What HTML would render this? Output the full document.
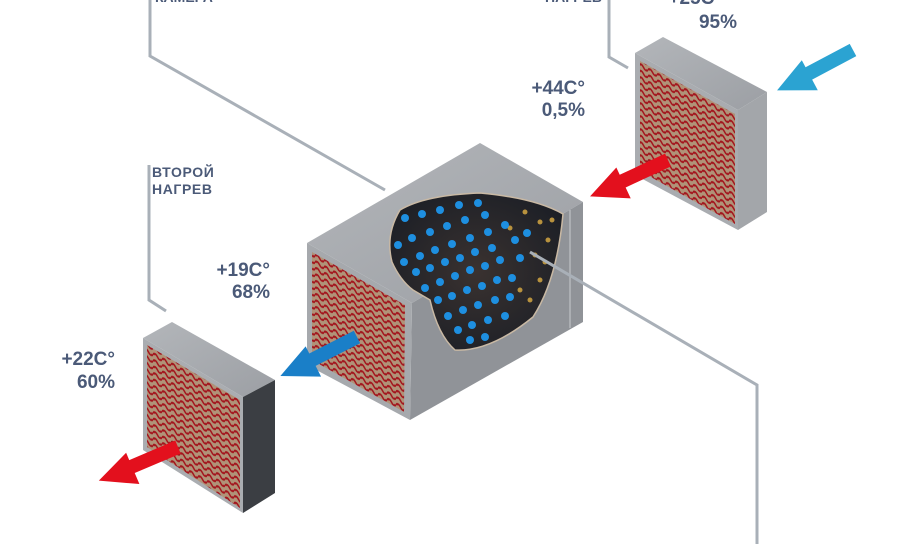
<!DOCTYPE html>
<html><head><meta charset="utf-8"><style>
html,body{margin:0;padding:0;background:#fff;width:916px;height:544px;overflow:hidden}
svg{display:block}
text{font-family:"Liberation Sans",sans-serif;font-weight:bold;fill:#4b5a78}
</style></head><body>
<svg width="916" height="544" viewBox="0 0 916 544" xmlns="http://www.w3.org/2000/svg">
<defs>
<pattern id="wv" width="9" height="6.5" patternUnits="userSpaceOnUse" patternTransform="skewY(29)">
<rect width="9" height="6.5" fill="#b09378"/>
<path d="M0 3.2 Q2.25 -0.2 4.5 3.2 T9 3.2" fill="none" stroke="#a3151d" stroke-width="1.9"/>
</pattern>
<linearGradient id="lg1" x1="0" y1="0" x2="0" y2="1"><stop offset="0" stop-color="#2fb4d8"/><stop offset="1" stop-color="#a9b0b8"/></linearGradient>
<linearGradient id="lg2" x1="0" y1="0" x2="0" y2="1"><stop offset="0" stop-color="#a9b0b8"/><stop offset="1" stop-color="#2fb4d8"/></linearGradient>
<linearGradient id="top" x1="0" y1="0" x2="1" y2="1"><stop offset="0" stop-color="#b3b6ba"/><stop offset="1" stop-color="#9c9fa4"/></linearGradient>
<radialGradient id="hole" cx="0.5" cy="0.5" r="0.6"><stop offset="0" stop-color="#3a3230"/><stop offset="1" stop-color="#1c1f26"/></radialGradient>
<g id="arr"><polygon points="0,-7 50,-7 50,-19 86,0 50,15 50,7 0,7"/></g>
</defs>

<polyline points="150,0 150,56 385,190" fill="none" stroke="#a9b0b8" stroke-width="3"/>
<line x1="150" y1="0" x2="150" y2="50" stroke="url(#lg1)" stroke-width="3"/>
<polyline points="609,0 609,57 628,68" fill="none" stroke="#a9b0b8" stroke-width="3"/>
<line x1="609" y1="0" x2="609" y2="52" stroke="url(#lg1)" stroke-width="3"/>
<polyline points="149,165 149,300 166,311" fill="none" stroke="#a9b0b8" stroke-width="3"/>
<line x1="149" y1="165" x2="149" y2="290" stroke="url(#lg1)" stroke-width="3"/>

<text x="152" y="177" font-size="14" letter-spacing="0.6">ВТОРОЙ</text>
<text x="152" y="194" font-size="14" letter-spacing="0.6">НАГРЕВ</text>
<text x="155" y="2" font-size="14">КАМЕРА</text>
<text x="602" y="2" font-size="14" text-anchor="end">НАГРЕВ</text>
<text x="722" y="4" font-size="19" text-anchor="end">+25C°</text>
<text x="737" y="28" font-size="19" text-anchor="end">95%</text>
<text x="585" y="94" font-size="19" text-anchor="end">+44C°</text>
<text x="585" y="116" font-size="19" text-anchor="end">0,5%</text>
<text x="270" y="276" font-size="19" text-anchor="end">+19C°</text>
<text x="270" y="298" font-size="19" text-anchor="end">68%</text>
<text x="115" y="365" font-size="19" text-anchor="end">+22C°</text>
<text x="115" y="388" font-size="19" text-anchor="end">60%</text>

<polygon points="635,53 663,37 767,92 738,110" fill="url(#top)"/>
<polygon points="738,110 767,92 767,212 738,230" fill="#a3a6aa"/>
<polygon points="635,53 738,110 738,230 635,175" fill="#a9acb0"/>
<polygon points="640,61 735,114 735,224 640,171" fill="url(#wv)"/>

<polygon points="307,243 480,143 583,202 412,303" fill="url(#top)"/>
<polygon points="412,303 583,202 583,322 410,420" fill="#909398"/>
<line x1="570" y1="210" x2="570" y2="328" stroke="#b5b8bc" stroke-width="1.5"/>
<polygon points="307,243 412,303 410,420 307,365" fill="#a6a9ad"/>
<polygon points="312,252 405,305 404,412 312,360" fill="url(#wv)"/>
<path d="M413,290 L430,300 Q438,335 455,350 Q490,352 533,317 Q557,280 563,214 Q535,198 480,193 Q425,195 400,210 Q385,235 392,262 Q400,280 413,290 Z" fill="url(#hole)" stroke="#c9b9a4" stroke-width="1.5"/>
<g fill="#b8923e"><circle cx="525" cy="212" r="2.5"/><circle cx="540" cy="222" r="2.5"/><circle cx="548" cy="240" r="2.5"/><circle cx="535" cy="255" r="2.5"/><circle cx="545" cy="262" r="2.5"/><circle cx="520" cy="290" r="2.5"/><circle cx="530" cy="300" r="2.5"/><circle cx="510" cy="228" r="2.5"/><circle cx="552" cy="220" r="2.5"/><circle cx="540" cy="280" r="2.5"/></g>
<g fill="#1e8fe0">
<circle cx="405" cy="218" r="4"/><circle cx="422" cy="214" r="4"/><circle cx="440" cy="210" r="4"/><circle cx="459" cy="205" r="4"/><circle cx="478" cy="203" r="4"/>
<circle cx="398" cy="245" r="4"/><circle cx="412" cy="238" r="4"/><circle cx="430" cy="232" r="4"/><circle cx="447" cy="226" r="4"/><circle cx="465" cy="220" r="4"/><circle cx="485" cy="215" r="4"/>
<circle cx="404" cy="262" r="4"/><circle cx="420" cy="256" r="4"/><circle cx="435" cy="250" r="4"/><circle cx="452" cy="244" r="4"/><circle cx="470" cy="238" r="4"/><circle cx="488" cy="232" r="4"/><circle cx="505" cy="225" r="4"/>
<circle cx="416" cy="272" r="4"/><circle cx="430" cy="268" r="4"/><circle cx="445" cy="262" r="4"/><circle cx="460" cy="258" r="4"/><circle cx="475" cy="252" r="4"/><circle cx="492" cy="248" r="4"/><circle cx="515" cy="240" r="4"/><circle cx="527" cy="233" r="4"/>
<circle cx="425" cy="288" r="4"/><circle cx="440" cy="282" r="4"/><circle cx="455" cy="276" r="4"/><circle cx="470" cy="270" r="4"/><circle cx="485" cy="266" r="4"/><circle cx="500" cy="260" r="4"/><circle cx="520" cy="258" r="4"/>
<circle cx="438" cy="300" r="4"/><circle cx="452" cy="296" r="4"/><circle cx="467" cy="290" r="4"/><circle cx="482" cy="286" r="4"/><circle cx="497" cy="280" r="4"/><circle cx="512" cy="278" r="4"/>
<circle cx="448" cy="316" r="4"/><circle cx="463" cy="310" r="4"/><circle cx="478" cy="305" r="4"/><circle cx="495" cy="300" r="4"/><circle cx="510" cy="297" r="4"/>
<circle cx="458" cy="330" r="4"/><circle cx="472" cy="325" r="4"/><circle cx="488" cy="320" r="4"/><circle cx="505" cy="316" r="4"/>
<circle cx="470" cy="340" r="4"/><circle cx="485" cy="337" r="4"/>
</g>

<polyline points="530,252 757,385 757,544" fill="none" stroke="#a9b0b8" stroke-width="3"/>
<line x1="757" y1="420" x2="757" y2="544" stroke="url(#lg2)" stroke-width="3"/>

<polygon points="143,338 172,322 275,380 243,397" fill="url(#top)"/>
<polygon points="243,397 275,380 275,493 243,513" fill="#3b3e43"/>
<polygon points="143,338 243,397 243,513 143,450" fill="#aaadb1"/>
<polygon points="147,345 240,400 240,508 147,447" fill="url(#wv)"/>

<use href="#arr" fill="#2ba3d2" transform="translate(853,50) rotate(152)"/>
<use href="#arr" fill="#e3101d" transform="translate(668,160) rotate(155)"/>
<use href="#arr" fill="#1a7fc8" transform="translate(357,337) rotate(153)"/>
<use href="#arr" fill="#e3101d" transform="translate(178,447) rotate(157)"/>
</svg>
</body></html>
